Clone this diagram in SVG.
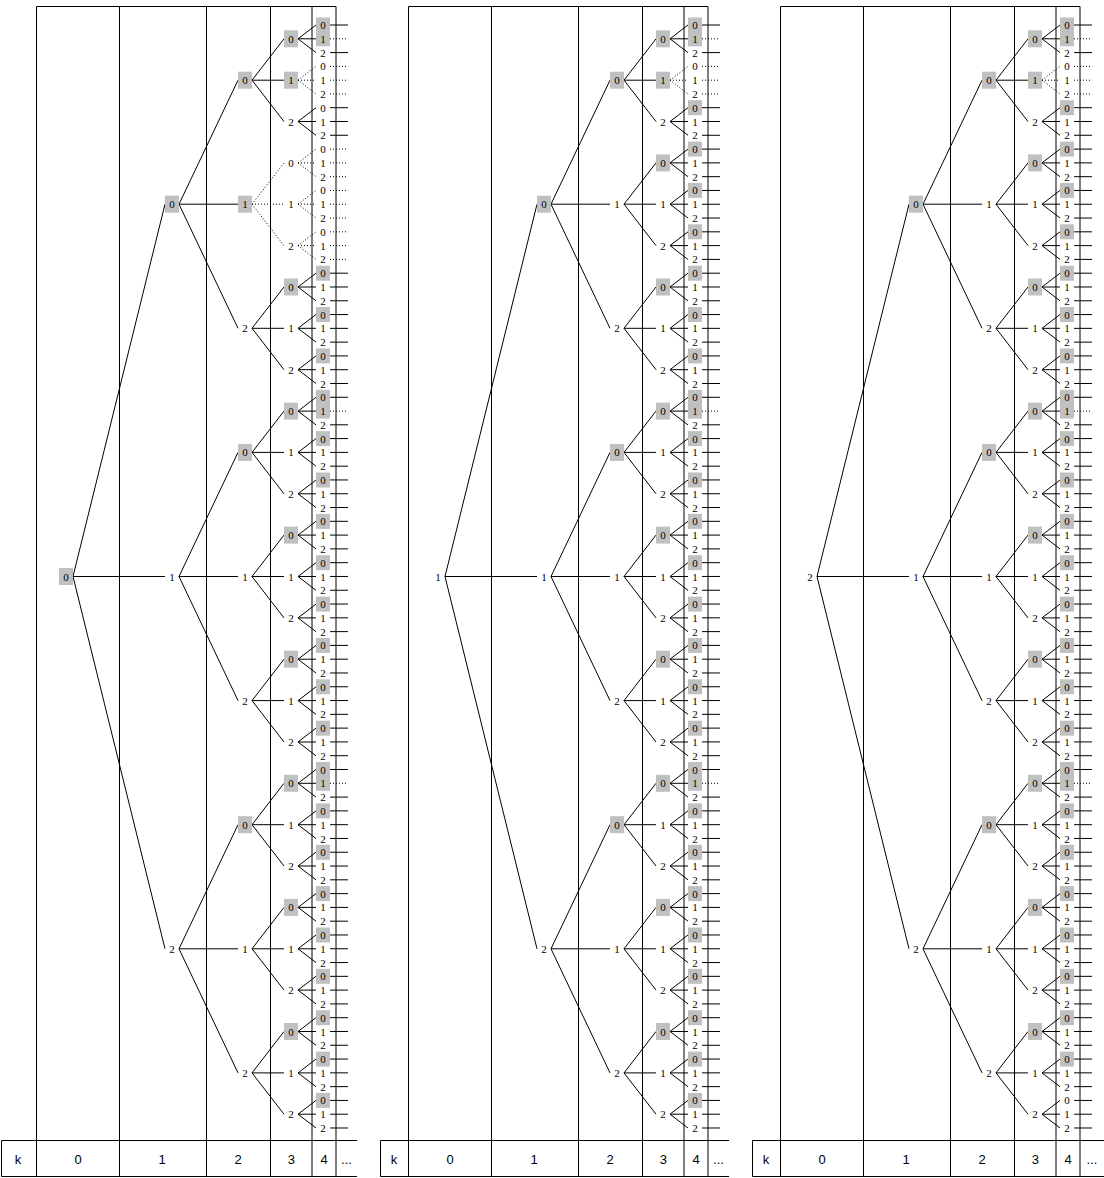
<svg xmlns="http://www.w3.org/2000/svg" xmlns:xlink="http://www.w3.org/1999/xlink" width="1104" height="1178" viewBox="0 0 1104 1178">
<style>
text{font-family:"Liberation Serif","Times New Roman",serif;font-size:11px;text-anchor:middle;dominant-baseline:central;fill:#000}
text.t{font-family:"Liberation Sans",Arial,sans-serif;font-size:13px}
rect.g{x:-7px;width:14px;height:17px;fill:#c0c0c0}
rect.h{x:-7px;width:14px;height:15px;fill:#c0c0c0}
.e{fill:none;stroke:#000;stroke-width:1}
.d{stroke-dasharray:1 2}
.grid{fill:none;stroke:#000;stroke-width:1}
</style>
<defs>
<g id="cc" class="e">
<path d="M73 576.5L165 204.2M73 576.5H165M73 576.5L165 948.8"/>
<path d="M179 204.2L238 80.2M179 204.2H238M179 204.2L238 328.3"/>
<path d="M179 576.5L238 452.4M179 576.5H238M179 576.5L238 700.6"/>
<path d="M179 948.8L238 824.7M179 948.8H238M179 948.8L238 1072.9"/>
<path d="M252 80.2L284 38.8M252 80.2H284M252 80.2L284 121.5"/>
<path d="M252 328.3L284 287M252 328.3H284M252 328.3L284 369.7"/>
<path d="M252 452.4L284 411.1M252 452.4H284M252 452.4L284 493.8"/>
<path d="M252 576.5L284 535.1M252 576.5H284M252 576.5L284 617.9"/>
<path d="M252 700.6L284 659.2M252 700.6H284M252 700.6L284 742"/>
<path d="M252 824.7L284 783.3M252 824.7H284M252 824.7L284 866"/>
<path d="M252 948.8L284 907.4M252 948.8H284M252 948.8L284 990.1"/>
<path d="M252 1072.9L284 1031.5M252 1072.9H284M252 1072.9L284 1114.2"/>
<path d="M298 38.8l18-13.8M298 38.8h18M298 38.8l18 13.8"/>
<path class="d" d="M298 80.2l18-13.8M298 80.2h18M298 80.2l18 13.8"/>
<path d="M298 121.5l18-13.8M298 121.5h18M298 121.5l18 13.8"/>
<path d="M298 287l18-13.8M298 287h18M298 287l18 13.8"/>
<path d="M298 328.3l18-13.8M298 328.3h18M298 328.3l18 13.8"/>
<path d="M298 369.7l18-13.8M298 369.7h18M298 369.7l18 13.8"/>
<path d="M298 411.1l18-13.8M298 411.1h18M298 411.1l18 13.8"/>
<path d="M298 452.4l18-13.8M298 452.4h18M298 452.4l18 13.8"/>
<path d="M298 493.8l18-13.8M298 493.8h18M298 493.8l18 13.8"/>
<path d="M298 535.1l18-13.8M298 535.1h18M298 535.1l18 13.8"/>
<path d="M298 576.5l18-13.8M298 576.5h18M298 576.5l18 13.8"/>
<path d="M298 617.9l18-13.8M298 617.9h18M298 617.9l18 13.8"/>
<path d="M298 659.2l18-13.8M298 659.2h18M298 659.2l18 13.8"/>
<path d="M298 700.6l18-13.8M298 700.6h18M298 700.6l18 13.8"/>
<path d="M298 742l18-13.8M298 742h18M298 742l18 13.8"/>
<path d="M298 783.3l18-13.8M298 783.3h18M298 783.3l18 13.8"/>
<path d="M298 824.7l18-13.8M298 824.7h18M298 824.7l18 13.8"/>
<path d="M298 866l18-13.8M298 866h18M298 866l18 13.8"/>
<path d="M298 907.4l18-13.8M298 907.4h18M298 907.4l18 13.8"/>
<path d="M298 948.8l18-13.8M298 948.8h18M298 948.8l18 13.8"/>
<path d="M298 990.1l18-13.8M298 990.1h18M298 990.1l18 13.8"/>
<path d="M298 1031.5l18-13.8M298 1031.5h18M298 1031.5l18 13.8"/>
<path d="M298 1072.9l18-13.8M298 1072.9h18M298 1072.9l18 13.8"/>
<path d="M298 1114.2l18-13.8M298 1114.2h18M298 1114.2l18 13.8"/>
<path d="M330 25h18M330 52.6h18M330 107.7h18m-18 13.7875h18m-18 13.7875h18"/>
<path d="M330 273.2h18m-18 13.7875h18m-18 13.7875h18m-18 13.7875h18m-18 13.7875h18m-18 13.7875h18m-18 13.7875h18m-18 13.7875h18m-18 13.7875h18m-18 13.7875h18"/>
<path d="M330 424.8h18m-18 13.7875h18m-18 13.7875h18m-18 13.7875h18m-18 13.7875h18m-18 13.7875h18m-18 13.7875h18m-18 13.7875h18m-18 13.7875h18m-18 13.7875h18m-18 13.7875h18m-18 13.7875h18m-18 13.7875h18m-18 13.7875h18m-18 13.7875h18m-18 13.7875h18m-18 13.7875h18m-18 13.7875h18m-18 13.7875h18m-18 13.7875h18m-18 13.7875h18m-18 13.7875h18m-18 13.7875h18m-18 13.7875h18m-18 13.7875h18m-18 13.7875h18"/>
<path d="M330 797.1h18m-18 13.7875h18m-18 13.7875h18m-18 13.7875h18m-18 13.7875h18m-18 13.7875h18m-18 13.7875h18m-18 13.7875h18m-18 13.7875h18m-18 13.7875h18m-18 13.7875h18m-18 13.7875h18m-18 13.7875h18m-18 13.7875h18m-18 13.7875h18m-18 13.7875h18m-18 13.7875h18m-18 13.7875h18m-18 13.7875h18m-18 13.7875h18m-18 13.7875h18m-18 13.7875h18m-18 13.7875h18m-18 13.7875h18m-18 13.7875h18"/>
<path class="d" d="M330 38.8h18M330 66.4h18m-18 13.7875h18m-18 13.7875h18M330 411.1h18M330 783.3h18"/>
</g>
<g id="cs" class="e">
<path d="M252 204.2L284 162.9M252 204.2H284M252 204.2L284 245.6"/>
<path d="M298 162.9l18-13.8M298 162.9h18M298 162.9l18 13.8"/>
<path d="M298 204.2l18-13.8M298 204.2h18M298 204.2l18 13.8"/>
<path d="M298 245.6l18-13.8M298 245.6h18M298 245.6l18 13.8"/>
<path d="M330 149.1h18m-18 13.7875h18m-18 13.7875h18m-18 13.7875h18m-18 13.7875h18m-18 13.7875h18m-18 13.7875h18m-18 13.7875h18m-18 13.7875h18"/>
</g>
</defs>

<g id="grids">
<path class="grid" d="M36.5 6.5H336M36.5 6.5V1176.5M119.5 6.5V1176.5M206.5 6.5V1176.5M270.5 6.5V1176.5M312 6.5V1176.5M336 6.5V1176.5M1.5 1140.5H357M1.5 1176.5H357M1.5 1140.5V1176.5"/>
<path class="grid" transform="translate(372 0)" d="M36.5 6.5H336M36.5 6.5V1176.5M119.5 6.5V1176.5M206.5 6.5V1176.5M270.5 6.5V1176.5M312 6.5V1176.5M336 6.5V1176.5M8.5 1140.5H357M8.5 1176.5H357M8.5 1140.5V1176.5"/>
<path class="grid" transform="translate(744 0)" d="M36.5 6.5H336M36.5 6.5V1176.5M119.5 6.5V1176.5M206.5 6.5V1176.5M270.5 6.5V1176.5M312 6.5V1176.5M336 6.5V1176.5M8.5 1140.5H360M8.5 1176.5H360M8.5 1140.5V1176.5"/>
</g>

<g id="tables">
<g id="table1"><text class="t" x="18" y="1159">k</text><text class="t" x="78" y="1159">0</text><text class="t" x="162" y="1159">1</text><text class="t" x="238" y="1159">2</text><text class="t" x="291.3" y="1159">3</text><text class="t" x="324" y="1159">4</text><text class="t" x="346.5" y="1159">...</text></g>
<g id="table2" transform="translate(372 0)"><text class="t" x="22" y="1159">k</text><text class="t" x="78" y="1159">0</text><text class="t" x="162" y="1159">1</text><text class="t" x="238" y="1159">2</text><text class="t" x="291.3" y="1159">3</text><text class="t" x="324" y="1159">4</text><text class="t" x="346.5" y="1159">...</text></g>
<g id="table3" transform="translate(744 0)"><text class="t" x="22" y="1159">k</text><text class="t" x="78" y="1159">0</text><text class="t" x="162" y="1159">1</text><text class="t" x="238" y="1159">2</text><text class="t" x="291.3" y="1159">3</text><text class="t" x="324" y="1159">4</text><text class="t" x="348" y="1159">...</text></g>
</g>

<g id="connectors">
<use xlink:href="#cc"/>
<use xlink:href="#cs" class="d"/>
<use xlink:href="#cc" x="372"/>
<use xlink:href="#cs" x="372"/>
<use xlink:href="#cc" x="744"/>
<use xlink:href="#cs" x="744"/>
</g>

<g id="panel1">
<g transform="translate(66 0)"><g id="p1-r"><rect class="g" y="568"/><text y="576.5">0</text></g></g>
<g transform="translate(172 0)">
<g id="p1-n0"><rect class="g" y="195.7"/><text y="204.2">0</text></g>
<g id="p1-n1"><text y="576.5">1</text></g>
<g id="p1-n2"><text y="948.8">2</text></g>
</g>
<g transform="translate(245 0)">
<g id="p1-n00"><rect class="g" y="71.7"/><text y="80.2">0</text></g>
<g id="p1-n01"><rect class="g" y="195.7"/><text y="204.2">1</text></g>
<g id="p1-n02"><text y="328.3">2</text></g>
<g id="p1-n10"><rect class="g" y="443.9"/><text y="452.4">0</text></g>
<g id="p1-n11"><text y="576.5">1</text></g>
<g id="p1-n12"><text y="700.6">2</text></g>
<g id="p1-n20"><rect class="g" y="816.2"/><text y="824.7">0</text></g>
<g id="p1-n21"><text y="948.8">1</text></g>
<g id="p1-n22"><text y="1072.9">2</text></g>
</g>
<g transform="translate(291 0)">
<g id="p1-n000"><rect class="g" y="30.3"/><text y="38.8">0</text></g>
<g id="p1-n001"><rect class="g" y="71.7"/><text y="80.2">1</text></g>
<g id="p1-n002"><text y="121.5">2</text></g>
<g id="p1-n010"><text y="162.9">0</text></g>
<g id="p1-n011"><text y="204.2">1</text></g>
<g id="p1-n012"><text y="245.6">2</text></g>
<g id="p1-n020"><rect class="g" y="278.5"/><text y="287">0</text></g>
<g id="p1-n021"><text y="328.3">1</text></g>
<g id="p1-n022"><text y="369.7">2</text></g>
<g id="p1-n100"><rect class="g" y="402.6"/><text y="411.1">0</text></g>
<g id="p1-n101"><text y="452.4">1</text></g>
<g id="p1-n102"><text y="493.8">2</text></g>
<g id="p1-n110"><rect class="g" y="526.6"/><text y="535.1">0</text></g>
<g id="p1-n111"><text y="576.5">1</text></g>
<g id="p1-n112"><text y="617.9">2</text></g>
<g id="p1-n120"><rect class="g" y="650.7"/><text y="659.2">0</text></g>
<g id="p1-n121"><text y="700.6">1</text></g>
<g id="p1-n122"><text y="742">2</text></g>
<g id="p1-n200"><rect class="g" y="774.8"/><text y="783.3">0</text></g>
<g id="p1-n201"><text y="824.7">1</text></g>
<g id="p1-n202"><text y="866">2</text></g>
<g id="p1-n210"><rect class="g" y="898.9"/><text y="907.4">0</text></g>
<g id="p1-n211"><text y="948.8">1</text></g>
<g id="p1-n212"><text y="990.1">2</text></g>
<g id="p1-n220"><rect class="g" y="1023"/><text y="1031.5">0</text></g>
<g id="p1-n221"><text y="1072.9">1</text></g>
<g id="p1-n222"><text y="1114.2">2</text></g>
</g>
<g transform="translate(323 0)">
<g id="p1-n0000"><rect class="h" y="17.5"/><text y="25">0</text></g>
<g id="p1-n0001"><rect class="h" y="31.3"/><text y="38.8">1</text></g>
<g id="p1-n0002"><text y="52.6">2</text></g>
<g id="p1-n0010"><text y="66.4">0</text></g>
<g id="p1-n0011"><text y="80.2">1</text></g>
<g id="p1-n0012"><text y="93.9">2</text></g>
<g id="p1-n0020"><text y="107.7">0</text></g>
<g id="p1-n0021"><text y="121.5">1</text></g>
<g id="p1-n0022"><text y="135.3">2</text></g>
<g id="p1-n0100"><text y="149.1">0</text></g>
<g id="p1-n0101"><text y="162.9">1</text></g>
<g id="p1-n0102"><text y="176.7">2</text></g>
<g id="p1-n0110"><text y="190.4">0</text></g>
<g id="p1-n0111"><text y="204.2">1</text></g>
<g id="p1-n0112"><text y="218">2</text></g>
<g id="p1-n0120"><text y="231.8">0</text></g>
<g id="p1-n0121"><text y="245.6">1</text></g>
<g id="p1-n0122"><text y="259.4">2</text></g>
<g id="p1-n0200"><rect class="h" y="265.7"/><text y="273.2">0</text></g>
<g id="p1-n0201"><text y="287">1</text></g>
<g id="p1-n0202"><text y="300.8">2</text></g>
<g id="p1-n0210"><rect class="h" y="307"/><text y="314.5">0</text></g>
<g id="p1-n0211"><text y="328.3">1</text></g>
<g id="p1-n0212"><text y="342.1">2</text></g>
<g id="p1-n0220"><rect class="h" y="348.4"/><text y="355.9">0</text></g>
<g id="p1-n0221"><text y="369.7">1</text></g>
<g id="p1-n0222"><text y="383.5">2</text></g>
<g id="p1-n1000"><rect class="h" y="389.8"/><text y="397.3">0</text></g>
<g id="p1-n1001"><rect class="h" y="403.6"/><text y="411.1">1</text></g>
<g id="p1-n1002"><text y="424.8">2</text></g>
<g id="p1-n1010"><rect class="h" y="431.1"/><text y="438.6">0</text></g>
<g id="p1-n1011"><text y="452.4">1</text></g>
<g id="p1-n1012"><text y="466.2">2</text></g>
<g id="p1-n1020"><rect class="h" y="472.5"/><text y="480">0</text></g>
<g id="p1-n1021"><text y="493.8">1</text></g>
<g id="p1-n1022"><text y="507.6">2</text></g>
<g id="p1-n1100"><rect class="h" y="513.9"/><text y="521.4">0</text></g>
<g id="p1-n1101"><text y="535.1">1</text></g>
<g id="p1-n1102"><text y="548.9">2</text></g>
<g id="p1-n1110"><rect class="h" y="555.2"/><text y="562.7">0</text></g>
<g id="p1-n1111"><text y="576.5">1</text></g>
<g id="p1-n1112"><text y="590.3">2</text></g>
<g id="p1-n1120"><rect class="h" y="596.6"/><text y="604.1">0</text></g>
<g id="p1-n1121"><text y="617.9">1</text></g>
<g id="p1-n1122"><text y="631.6">2</text></g>
<g id="p1-n1200"><rect class="h" y="637.9"/><text y="645.4">0</text></g>
<g id="p1-n1201"><text y="659.2">1</text></g>
<g id="p1-n1202"><text y="673">2</text></g>
<g id="p1-n1210"><rect class="h" y="679.3"/><text y="686.8">0</text></g>
<g id="p1-n1211"><text y="700.6">1</text></g>
<g id="p1-n1212"><text y="714.4">2</text></g>
<g id="p1-n1220"><rect class="h" y="720.7"/><text y="728.2">0</text></g>
<g id="p1-n1221"><text y="742">1</text></g>
<g id="p1-n1222"><text y="755.7">2</text></g>
<g id="p1-n2000"><rect class="h" y="762"/><text y="769.5">0</text></g>
<g id="p1-n2001"><rect class="h" y="775.8"/><text y="783.3">1</text></g>
<g id="p1-n2002"><text y="797.1">2</text></g>
<g id="p1-n2010"><rect class="h" y="803.4"/><text y="810.9">0</text></g>
<g id="p1-n2011"><text y="824.7">1</text></g>
<g id="p1-n2012"><text y="838.5">2</text></g>
<g id="p1-n2020"><rect class="h" y="844.8"/><text y="852.3">0</text></g>
<g id="p1-n2021"><text y="866">1</text></g>
<g id="p1-n2022"><text y="879.8">2</text></g>
<g id="p1-n2100"><rect class="h" y="886.1"/><text y="893.6">0</text></g>
<g id="p1-n2101"><text y="907.4">1</text></g>
<g id="p1-n2102"><text y="921.2">2</text></g>
<g id="p1-n2110"><rect class="h" y="927.5"/><text y="935">0</text></g>
<g id="p1-n2111"><text y="948.8">1</text></g>
<g id="p1-n2112"><text y="962.6">2</text></g>
<g id="p1-n2120"><rect class="h" y="968.8"/><text y="976.3">0</text></g>
<g id="p1-n2121"><text y="990.1">1</text></g>
<g id="p1-n2122"><text y="1003.9">2</text></g>
<g id="p1-n2200"><rect class="h" y="1010.2"/><text y="1017.7">0</text></g>
<g id="p1-n2201"><text y="1031.5">1</text></g>
<g id="p1-n2202"><text y="1045.3">2</text></g>
<g id="p1-n2210"><rect class="h" y="1051.6"/><text y="1059.1">0</text></g>
<g id="p1-n2211"><text y="1072.9">1</text></g>
<g id="p1-n2212"><text y="1086.6">2</text></g>
<g id="p1-n2220"><rect class="h" y="1092.9"/><text y="1100.4">0</text></g>
<g id="p1-n2221"><text y="1114.2">1</text></g>
<g id="p1-n2222"><text y="1128">2</text></g>
</g>
</g>

<g id="panel2" transform="translate(372 0)">
<g transform="translate(66 0)"><g id="p2-r"><text y="576.5">1</text></g></g>
<g transform="translate(172 0)">
<g id="p2-n0"><rect class="g" y="195.7"/><text y="204.2">0</text></g>
<g id="p2-n1"><text y="576.5">1</text></g>
<g id="p2-n2"><text y="948.8">2</text></g>
</g>
<g transform="translate(245 0)">
<g id="p2-n00"><rect class="g" y="71.7"/><text y="80.2">0</text></g>
<g id="p2-n01"><text y="204.2">1</text></g>
<g id="p2-n02"><text y="328.3">2</text></g>
<g id="p2-n10"><rect class="g" y="443.9"/><text y="452.4">0</text></g>
<g id="p2-n11"><text y="576.5">1</text></g>
<g id="p2-n12"><text y="700.6">2</text></g>
<g id="p2-n20"><rect class="g" y="816.2"/><text y="824.7">0</text></g>
<g id="p2-n21"><text y="948.8">1</text></g>
<g id="p2-n22"><text y="1072.9">2</text></g>
</g>
<g transform="translate(291 0)">
<g id="p2-n000"><rect class="g" y="30.3"/><text y="38.8">0</text></g>
<g id="p2-n001"><rect class="g" y="71.7"/><text y="80.2">1</text></g>
<g id="p2-n002"><text y="121.5">2</text></g>
<g id="p2-n010"><rect class="g" y="154.4"/><text y="162.9">0</text></g>
<g id="p2-n011"><text y="204.2">1</text></g>
<g id="p2-n012"><text y="245.6">2</text></g>
<g id="p2-n020"><rect class="g" y="278.5"/><text y="287">0</text></g>
<g id="p2-n021"><text y="328.3">1</text></g>
<g id="p2-n022"><text y="369.7">2</text></g>
<g id="p2-n100"><rect class="g" y="402.6"/><text y="411.1">0</text></g>
<g id="p2-n101"><text y="452.4">1</text></g>
<g id="p2-n102"><text y="493.8">2</text></g>
<g id="p2-n110"><rect class="g" y="526.6"/><text y="535.1">0</text></g>
<g id="p2-n111"><text y="576.5">1</text></g>
<g id="p2-n112"><text y="617.9">2</text></g>
<g id="p2-n120"><rect class="g" y="650.7"/><text y="659.2">0</text></g>
<g id="p2-n121"><text y="700.6">1</text></g>
<g id="p2-n122"><text y="742">2</text></g>
<g id="p2-n200"><rect class="g" y="774.8"/><text y="783.3">0</text></g>
<g id="p2-n201"><text y="824.7">1</text></g>
<g id="p2-n202"><text y="866">2</text></g>
<g id="p2-n210"><rect class="g" y="898.9"/><text y="907.4">0</text></g>
<g id="p2-n211"><text y="948.8">1</text></g>
<g id="p2-n212"><text y="990.1">2</text></g>
<g id="p2-n220"><rect class="g" y="1023"/><text y="1031.5">0</text></g>
<g id="p2-n221"><text y="1072.9">1</text></g>
<g id="p2-n222"><text y="1114.2">2</text></g>
</g>
<g transform="translate(323 0)">
<g id="p2-n0000"><rect class="h" y="17.5"/><text y="25">0</text></g>
<g id="p2-n0001"><rect class="h" y="31.3"/><text y="38.8">1</text></g>
<g id="p2-n0002"><text y="52.6">2</text></g>
<g id="p2-n0010"><text y="66.4">0</text></g>
<g id="p2-n0011"><text y="80.2">1</text></g>
<g id="p2-n0012"><text y="93.9">2</text></g>
<g id="p2-n0020"><rect class="h" y="100.2"/><text y="107.7">0</text></g>
<g id="p2-n0021"><text y="121.5">1</text></g>
<g id="p2-n0022"><text y="135.3">2</text></g>
<g id="p2-n0100"><rect class="h" y="141.6"/><text y="149.1">0</text></g>
<g id="p2-n0101"><text y="162.9">1</text></g>
<g id="p2-n0102"><text y="176.7">2</text></g>
<g id="p2-n0110"><rect class="h" y="182.9"/><text y="190.4">0</text></g>
<g id="p2-n0111"><text y="204.2">1</text></g>
<g id="p2-n0112"><text y="218">2</text></g>
<g id="p2-n0120"><rect class="h" y="224.3"/><text y="231.8">0</text></g>
<g id="p2-n0121"><text y="245.6">1</text></g>
<g id="p2-n0122"><text y="259.4">2</text></g>
<g id="p2-n0200"><rect class="h" y="265.7"/><text y="273.2">0</text></g>
<g id="p2-n0201"><text y="287">1</text></g>
<g id="p2-n0202"><text y="300.8">2</text></g>
<g id="p2-n0210"><rect class="h" y="307"/><text y="314.5">0</text></g>
<g id="p2-n0211"><text y="328.3">1</text></g>
<g id="p2-n0212"><text y="342.1">2</text></g>
<g id="p2-n0220"><rect class="h" y="348.4"/><text y="355.9">0</text></g>
<g id="p2-n0221"><text y="369.7">1</text></g>
<g id="p2-n0222"><text y="383.5">2</text></g>
<g id="p2-n1000"><rect class="h" y="389.8"/><text y="397.3">0</text></g>
<g id="p2-n1001"><rect class="h" y="403.6"/><text y="411.1">1</text></g>
<g id="p2-n1002"><text y="424.8">2</text></g>
<g id="p2-n1010"><rect class="h" y="431.1"/><text y="438.6">0</text></g>
<g id="p2-n1011"><text y="452.4">1</text></g>
<g id="p2-n1012"><text y="466.2">2</text></g>
<g id="p2-n1020"><rect class="h" y="472.5"/><text y="480">0</text></g>
<g id="p2-n1021"><text y="493.8">1</text></g>
<g id="p2-n1022"><text y="507.6">2</text></g>
<g id="p2-n1100"><rect class="h" y="513.9"/><text y="521.4">0</text></g>
<g id="p2-n1101"><text y="535.1">1</text></g>
<g id="p2-n1102"><text y="548.9">2</text></g>
<g id="p2-n1110"><rect class="h" y="555.2"/><text y="562.7">0</text></g>
<g id="p2-n1111"><text y="576.5">1</text></g>
<g id="p2-n1112"><text y="590.3">2</text></g>
<g id="p2-n1120"><rect class="h" y="596.6"/><text y="604.1">0</text></g>
<g id="p2-n1121"><text y="617.9">1</text></g>
<g id="p2-n1122"><text y="631.6">2</text></g>
<g id="p2-n1200"><rect class="h" y="637.9"/><text y="645.4">0</text></g>
<g id="p2-n1201"><text y="659.2">1</text></g>
<g id="p2-n1202"><text y="673">2</text></g>
<g id="p2-n1210"><rect class="h" y="679.3"/><text y="686.8">0</text></g>
<g id="p2-n1211"><text y="700.6">1</text></g>
<g id="p2-n1212"><text y="714.4">2</text></g>
<g id="p2-n1220"><rect class="h" y="720.7"/><text y="728.2">0</text></g>
<g id="p2-n1221"><text y="742">1</text></g>
<g id="p2-n1222"><text y="755.7">2</text></g>
<g id="p2-n2000"><rect class="h" y="762"/><text y="769.5">0</text></g>
<g id="p2-n2001"><rect class="h" y="775.8"/><text y="783.3">1</text></g>
<g id="p2-n2002"><text y="797.1">2</text></g>
<g id="p2-n2010"><rect class="h" y="803.4"/><text y="810.9">0</text></g>
<g id="p2-n2011"><text y="824.7">1</text></g>
<g id="p2-n2012"><text y="838.5">2</text></g>
<g id="p2-n2020"><rect class="h" y="844.8"/><text y="852.3">0</text></g>
<g id="p2-n2021"><text y="866">1</text></g>
<g id="p2-n2022"><text y="879.8">2</text></g>
<g id="p2-n2100"><rect class="h" y="886.1"/><text y="893.6">0</text></g>
<g id="p2-n2101"><text y="907.4">1</text></g>
<g id="p2-n2102"><text y="921.2">2</text></g>
<g id="p2-n2110"><rect class="h" y="927.5"/><text y="935">0</text></g>
<g id="p2-n2111"><text y="948.8">1</text></g>
<g id="p2-n2112"><text y="962.6">2</text></g>
<g id="p2-n2120"><rect class="h" y="968.8"/><text y="976.3">0</text></g>
<g id="p2-n2121"><text y="990.1">1</text></g>
<g id="p2-n2122"><text y="1003.9">2</text></g>
<g id="p2-n2200"><rect class="h" y="1010.2"/><text y="1017.7">0</text></g>
<g id="p2-n2201"><text y="1031.5">1</text></g>
<g id="p2-n2202"><text y="1045.3">2</text></g>
<g id="p2-n2210"><rect class="h" y="1051.6"/><text y="1059.1">0</text></g>
<g id="p2-n2211"><text y="1072.9">1</text></g>
<g id="p2-n2212"><text y="1086.6">2</text></g>
<g id="p2-n2220"><rect class="h" y="1092.9"/><text y="1100.4">0</text></g>
<g id="p2-n2221"><text y="1114.2">1</text></g>
<g id="p2-n2222"><text y="1128">2</text></g>
</g>
</g>

<g id="panel3" transform="translate(744 0)">
<g transform="translate(66 0)"><g id="p3-r"><text y="576.5">2</text></g></g>
<g transform="translate(172 0)">
<g id="p3-n0"><rect class="g" y="195.7"/><text y="204.2">0</text></g>
<g id="p3-n1"><text y="576.5">1</text></g>
<g id="p3-n2"><text y="948.8">2</text></g>
</g>
<g transform="translate(245 0)">
<g id="p3-n00"><rect class="g" y="71.7"/><text y="80.2">0</text></g>
<g id="p3-n01"><text y="204.2">1</text></g>
<g id="p3-n02"><text y="328.3">2</text></g>
<g id="p3-n10"><rect class="g" y="443.9"/><text y="452.4">0</text></g>
<g id="p3-n11"><text y="576.5">1</text></g>
<g id="p3-n12"><text y="700.6">2</text></g>
<g id="p3-n20"><rect class="g" y="816.2"/><text y="824.7">0</text></g>
<g id="p3-n21"><text y="948.8">1</text></g>
<g id="p3-n22"><text y="1072.9">2</text></g>
</g>
<g transform="translate(291 0)">
<g id="p3-n000"><rect class="g" y="30.3"/><text y="38.8">0</text></g>
<g id="p3-n001"><rect class="g" y="71.7"/><text y="80.2">1</text></g>
<g id="p3-n002"><text y="121.5">2</text></g>
<g id="p3-n010"><rect class="g" y="154.4"/><text y="162.9">0</text></g>
<g id="p3-n011"><text y="204.2">1</text></g>
<g id="p3-n012"><text y="245.6">2</text></g>
<g id="p3-n020"><rect class="g" y="278.5"/><text y="287">0</text></g>
<g id="p3-n021"><text y="328.3">1</text></g>
<g id="p3-n022"><text y="369.7">2</text></g>
<g id="p3-n100"><rect class="g" y="402.6"/><text y="411.1">0</text></g>
<g id="p3-n101"><text y="452.4">1</text></g>
<g id="p3-n102"><text y="493.8">2</text></g>
<g id="p3-n110"><rect class="g" y="526.6"/><text y="535.1">0</text></g>
<g id="p3-n111"><text y="576.5">1</text></g>
<g id="p3-n112"><text y="617.9">2</text></g>
<g id="p3-n120"><rect class="g" y="650.7"/><text y="659.2">0</text></g>
<g id="p3-n121"><text y="700.6">1</text></g>
<g id="p3-n122"><text y="742">2</text></g>
<g id="p3-n200"><rect class="g" y="774.8"/><text y="783.3">0</text></g>
<g id="p3-n201"><text y="824.7">1</text></g>
<g id="p3-n202"><text y="866">2</text></g>
<g id="p3-n210"><rect class="g" y="898.9"/><text y="907.4">0</text></g>
<g id="p3-n211"><text y="948.8">1</text></g>
<g id="p3-n212"><text y="990.1">2</text></g>
<g id="p3-n220"><rect class="g" y="1023"/><text y="1031.5">0</text></g>
<g id="p3-n221"><text y="1072.9">1</text></g>
<g id="p3-n222"><text y="1114.2">2</text></g>
</g>
<g transform="translate(323 0)">
<g id="p3-n0000"><rect class="h" y="17.5"/><text y="25">0</text></g>
<g id="p3-n0001"><rect class="h" y="31.3"/><text y="38.8">1</text></g>
<g id="p3-n0002"><text y="52.6">2</text></g>
<g id="p3-n0010"><text y="66.4">0</text></g>
<g id="p3-n0011"><text y="80.2">1</text></g>
<g id="p3-n0012"><text y="93.9">2</text></g>
<g id="p3-n0020"><rect class="h" y="100.2"/><text y="107.7">0</text></g>
<g id="p3-n0021"><text y="121.5">1</text></g>
<g id="p3-n0022"><text y="135.3">2</text></g>
<g id="p3-n0100"><rect class="h" y="141.6"/><text y="149.1">0</text></g>
<g id="p3-n0101"><text y="162.9">1</text></g>
<g id="p3-n0102"><text y="176.7">2</text></g>
<g id="p3-n0110"><rect class="h" y="182.9"/><text y="190.4">0</text></g>
<g id="p3-n0111"><text y="204.2">1</text></g>
<g id="p3-n0112"><text y="218">2</text></g>
<g id="p3-n0120"><rect class="h" y="224.3"/><text y="231.8">0</text></g>
<g id="p3-n0121"><text y="245.6">1</text></g>
<g id="p3-n0122"><text y="259.4">2</text></g>
<g id="p3-n0200"><rect class="h" y="265.7"/><text y="273.2">0</text></g>
<g id="p3-n0201"><text y="287">1</text></g>
<g id="p3-n0202"><text y="300.8">2</text></g>
<g id="p3-n0210"><rect class="h" y="307"/><text y="314.5">0</text></g>
<g id="p3-n0211"><text y="328.3">1</text></g>
<g id="p3-n0212"><text y="342.1">2</text></g>
<g id="p3-n0220"><rect class="h" y="348.4"/><text y="355.9">0</text></g>
<g id="p3-n0221"><text y="369.7">1</text></g>
<g id="p3-n0222"><text y="383.5">2</text></g>
<g id="p3-n1000"><rect class="h" y="389.8"/><text y="397.3">0</text></g>
<g id="p3-n1001"><rect class="h" y="403.6"/><text y="411.1">1</text></g>
<g id="p3-n1002"><text y="424.8">2</text></g>
<g id="p3-n1010"><rect class="h" y="431.1"/><text y="438.6">0</text></g>
<g id="p3-n1011"><text y="452.4">1</text></g>
<g id="p3-n1012"><text y="466.2">2</text></g>
<g id="p3-n1020"><rect class="h" y="472.5"/><text y="480">0</text></g>
<g id="p3-n1021"><text y="493.8">1</text></g>
<g id="p3-n1022"><text y="507.6">2</text></g>
<g id="p3-n1100"><rect class="h" y="513.9"/><text y="521.4">0</text></g>
<g id="p3-n1101"><text y="535.1">1</text></g>
<g id="p3-n1102"><text y="548.9">2</text></g>
<g id="p3-n1110"><rect class="h" y="555.2"/><text y="562.7">0</text></g>
<g id="p3-n1111"><text y="576.5">1</text></g>
<g id="p3-n1112"><text y="590.3">2</text></g>
<g id="p3-n1120"><rect class="h" y="596.6"/><text y="604.1">0</text></g>
<g id="p3-n1121"><text y="617.9">1</text></g>
<g id="p3-n1122"><text y="631.6">2</text></g>
<g id="p3-n1200"><rect class="h" y="637.9"/><text y="645.4">0</text></g>
<g id="p3-n1201"><text y="659.2">1</text></g>
<g id="p3-n1202"><text y="673">2</text></g>
<g id="p3-n1210"><rect class="h" y="679.3"/><text y="686.8">0</text></g>
<g id="p3-n1211"><text y="700.6">1</text></g>
<g id="p3-n1212"><text y="714.4">2</text></g>
<g id="p3-n1220"><rect class="h" y="720.7"/><text y="728.2">0</text></g>
<g id="p3-n1221"><text y="742">1</text></g>
<g id="p3-n1222"><text y="755.7">2</text></g>
<g id="p3-n2000"><rect class="h" y="762"/><text y="769.5">0</text></g>
<g id="p3-n2001"><rect class="h" y="775.8"/><text y="783.3">1</text></g>
<g id="p3-n2002"><text y="797.1">2</text></g>
<g id="p3-n2010"><rect class="h" y="803.4"/><text y="810.9">0</text></g>
<g id="p3-n2011"><text y="824.7">1</text></g>
<g id="p3-n2012"><text y="838.5">2</text></g>
<g id="p3-n2020"><rect class="h" y="844.8"/><text y="852.3">0</text></g>
<g id="p3-n2021"><text y="866">1</text></g>
<g id="p3-n2022"><text y="879.8">2</text></g>
<g id="p3-n2100"><rect class="h" y="886.1"/><text y="893.6">0</text></g>
<g id="p3-n2101"><text y="907.4">1</text></g>
<g id="p3-n2102"><text y="921.2">2</text></g>
<g id="p3-n2110"><rect class="h" y="927.5"/><text y="935">0</text></g>
<g id="p3-n2111"><text y="948.8">1</text></g>
<g id="p3-n2112"><text y="962.6">2</text></g>
<g id="p3-n2120"><rect class="h" y="968.8"/><text y="976.3">0</text></g>
<g id="p3-n2121"><text y="990.1">1</text></g>
<g id="p3-n2122"><text y="1003.9">2</text></g>
<g id="p3-n2200"><rect class="h" y="1010.2"/><text y="1017.7">0</text></g>
<g id="p3-n2201"><text y="1031.5">1</text></g>
<g id="p3-n2202"><text y="1045.3">2</text></g>
<g id="p3-n2210"><rect class="h" y="1051.6"/><text y="1059.1">0</text></g>
<g id="p3-n2211"><text y="1072.9">1</text></g>
<g id="p3-n2212"><text y="1086.6">2</text></g>
<g id="p3-n2220"><text y="1100.4">0</text></g>
<g id="p3-n2221"><text y="1114.2">1</text></g>
<g id="p3-n2222"><text y="1128">2</text></g>
</g>
</g>
</svg>
